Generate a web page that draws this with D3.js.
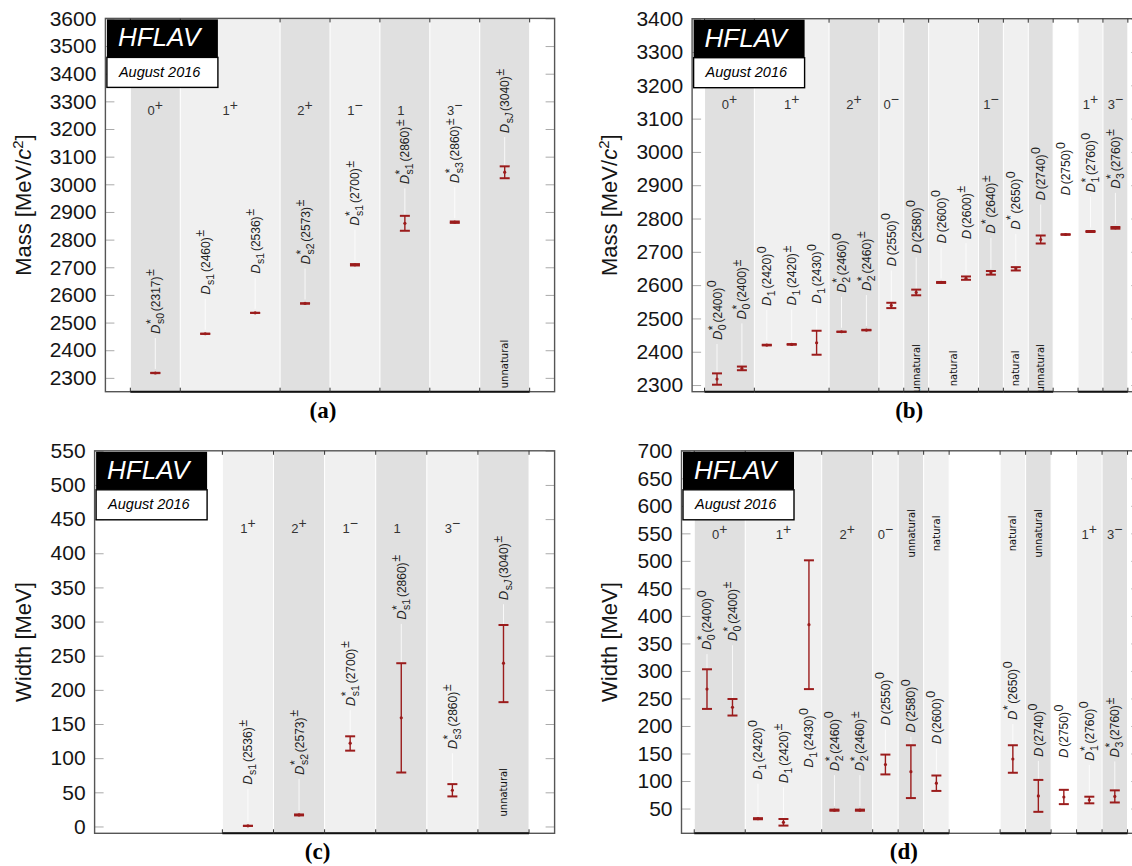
<!DOCTYPE html>
<html><head><meta charset="utf-8">
<script src="https://cdn.jsdelivr.net/npm/d3@7"></script>
<style>body{margin:0;background:#fff} svg{display:block}</style>
</head><body>
<svg id="c" width="1132" height="866"></svg>
<script>
// ---------------- data: D_s mesons (panels a, c) ----------------
const dsSup = ["*","","","*","*","*","*",""];
const dsSub = ["s0","s1","s1","s2","s1","s1","s3","sJ"];
const dsNum = ["(2317)","(2460)","(2536)","(2573)","(2700)","(2860)","(2860)","(3040)"];
const dsChg = ["±","±","±","±","±","±","±","±"];
const dsJP = ["0+","1+","1+","2+","1−","1","3−","unnatural"];
const dsShade = ["d","l","l","d","l","d","l","d"];
const dsMass = [2317.7, 2459.5, 2535.1, 2569.1, 2709, 2859, 2863, 3044];
const dsMassUp = [0.6, 0.6, 0.1, 0.8, 2.5, 27, 2.5, 21];
const dsMassDn = [0.6, 0.6, 0.1, 0.8, 2.5, 27, 2.5, 22];
const dsWidth = [null, null, 0.92, 16.9, 122, 159, 53, 239];
const dsWidthUp = [null, null, 0.05, 0.7, 10, 80, 9, 56];
const dsWidthDn = [null, null, 0.05, 0.7, 11, 80, 9, 57];

// ---------------- data: D mesons (panels b, d) ----------------
const dSup = ["*","*","","","","*","*","","","","","*","*","","","*","*"];
const dSub = ["0","0","1","1","1","2","2","","","","","","","","","1","3"];
const dNum = ["(2400)","(2400)","(2420)","(2420)","(2430)","(2460)","(2460)","(2550)","(2580)","(2600)","(2600)","(2640)","(2650)","(2740)","(2750)","(2760)","(2760)"];
const dChg = ["0","±","0","±","0","0","±","0","0","0","±","±","0","0","0","0","±"];
const dJP = ["0+","0+","1+","1+","1+","2+","2+","0−","unnatural","natural","natural","1−","natural","unnatural","","1+","3−"];
const dShade = ["d","d","l","l","l","d","d","l","d","l","l","d","l","d","w","l","d"];
const dMass = [2318, 2350, 2420, 2422, 2427, 2460, 2465, 2539, 2578, 2608, 2621, 2637, 2649, 2737, 2752, 2761, 2772];
const dMassUp = [17, 5.5, 1, 1, 36, 0.5, 0.8, 8, 8.5, 1.5, 5, 5.5, 5, 12, 1, 1.5, 2.5];
const dMassDn = [17, 5.5, 1, 1, 36, 0.5, 0.8, 8, 8.5, 1.5, 5, 5.5, 5, 12, 1, 1.5, 2.5];
const dWidth = [267, 234, 31.5, 25, 384, 47, 47, 130, 117, 96, null, null, 140, 73, 71, 65.5, 72];
const dWidthUp = [36, 15, 1, 6, 117, 1, 1, 18, 48, 14, null, null, 25, 29, 13, 6, 11];
const dWidthDn = [36, 15, 1, 6, 117, 1, 1, 18, 48, 14, null, null, 25, 29, 13, 6, 11];

// tick values
const massTicksA = d3.range(2300, 3601, 100);
const massTicksB = d3.range(2300, 3401, 100);
const widthTicksC = d3.range(0, 551, 50);
const widthTicksD = d3.range(50, 701, 50);

// label lifts (pixels above the central value)
const liftA = [39,39,39,39,39,39,39,39];
const liftB = [39,49,39,39,39,39,39,39,39,39,39,39,39,39,39,39,39];
const liftC = [39,39,41,40,37,98,41,63];
const liftD = [39,66,39,39,-143,39,39,39,39,39,39,39,39,39,39,39,39];

// ---------------- drawing ----------------
const svg = d3.select("#c");
const RED = "#9b1c1c";
const SANS = "'Liberation Sans', Arial, sans-serif";
const shadeCol = {d:"#e0e0e0", l:"#f0f0f0", w:"none"};

function nameLabel(parent, cx, yb, d) {
  const g = parent.append("g").attr("transform", `translate(${cx},${yb}) rotate(-90)`)
    .attr("fill", "#222").style("font-family", SANS);
  const base = 4.5;
  let xp = 0;
  const t1 = g.append("text").attr("x", 0).attr("y", base).style("font-size", "13px").style("font-style", "italic").text("D");
  xp += t1.node().getComputedTextLength();
  let stackW = 0;
  if (d.sup) {
    const s = g.append("text").attr("x", xp + 0.5).attr("y", base - 5).style("font-size", "12px").text(d.sup);
    stackW = Math.max(stackW, s.node().getComputedTextLength() + 0.5);
  }
  if (d.sub) {
    const s = g.append("text").attr("x", xp + 0.5).attr("y", base + 4).style("font-size", "10.5px");
    for (const ch of d.sub) {
      s.append("tspan").style("font-style", ch === "J" ? "italic" : "normal").text(ch);
    }
    stackW = Math.max(stackW, s.node().getComputedTextLength() + 0.5);
  }
  xp += stackW + 1.8;
  const n = g.append("text").attr("x", xp).attr("y", base).style("font-size", "12px").text(d.num);
  xp += n.node().getComputedTextLength() + 0.6;
  g.append("text").attr("x", xp).attr("y", base - 5.5).style("font-size", "12.5px").text(d.chg);
}

function drawPanel(c) {
  const x = d3.scaleLinear().domain([0, c.xMax]).range([c.left, c.right]);
  const y = d3.scaleLinear().domain(c.yDomain).range([c.bottom, c.top]);
  const g = svg.append("g");

  const items = c.val.map((v, i) => ({
    col: i + 1, v, up: c.up[i], dn: c.dn[i], jp: c.jp[i], shade: c.shade[i],
    sup: c.sup[i], sub: c.sub[i], num: c.num[i], chg: c.chg[i], lift: c.lift[i]
  })).filter(d => d.v != null);

  const groups = [];
  items.forEach(d => {
    const last = groups[groups.length - 1];
    if (last && d.jp !== "" && last.jp === d.jp && last.c1 === d.col - 1) last.c1 = d.col;
    else groups.push({jp: d.jp, c0: d.col, c1: d.col, shade: d.shade});
  });
  const bands = groups.filter(gr => gr.shade !== "w");

  g.append("g").selectAll("rect").data(bands).join("rect")
    .attr("x", d => x(d.c0 - 0.5)).attr("width", d => x(d.c1 + 0.5) - x(d.c0 - 0.5))
    .attr("y", c.top).attr("height", c.bottom - c.top)
    .attr("fill", d => shadeCol[d.shade]);

  const edges = [...new Set(bands.flatMap(d => [d.c0 - 0.5, d.c1 + 0.5]))];
  g.append("g").selectAll("line").data(edges).join("line")
    .attr("x1", d => x(d)).attr("x2", d => x(d)).attr("y1", c.top).attr("y2", c.bottom)
    .attr("stroke", "#fff").attr("stroke-width", 1);

  // ticks (inside, both sides)
  const tl = g.append("g").attr("transform", `translate(${c.left},0)`)
    .call(d3.axisRight(y).tickValues(c.ticks).tickSize(9).tickFormat(""));
  tl.select(".domain").remove();
  tl.selectAll("line").attr("stroke", "#aaa");
  const tr = g.append("g").attr("transform", `translate(${c.right},0)`)
    .call(d3.axisLeft(y).tickValues(c.ticks).tickSize(9).tickFormat(""));
  tr.select(".domain").remove();
  tr.selectAll("line").attr("stroke", "#aaa");

  // frame
  g.append("rect").attr("x", c.left).attr("y", c.top)
    .attr("width", c.right - c.left).attr("height", c.bottom - c.top)
    .attr("fill", "none").attr("stroke", "#555").attr("stroke-width", 1.4);

  // band bottom line + boundary ticks
  g.append("g").selectAll("line").data(bands).join("line")
    .attr("x1", d => x(d.c0 - 0.5)).attr("x2", d => x(d.c1 + 0.5))
    .attr("y1", c.bottom).attr("y2", c.bottom).attr("stroke", "#111").attr("stroke-width", 2);
  const bt = g.append("g");
  edges.forEach(e => {
    bt.append("line").attr("x1", x(e)).attr("x2", x(e)).attr("y1", c.bottom).attr("y2", c.bottom - 4).attr("stroke", "#333");
    bt.append("line").attr("x1", x(e)).attr("x2", x(e)).attr("y1", c.top).attr("y2", c.top + 4).attr("stroke", "#333");
  });

  // tick labels
  const ax = g.append("g").attr("transform", `translate(${c.left},0)`)
    .call(d3.axisLeft(y).tickValues(c.ticks).tickSize(0).tickPadding(9).tickFormat(d3.format("d")));
  ax.select(".domain").remove();
  ax.selectAll("text").style("font-family", SANS).style("font-size", "21px").attr("fill", "#151515");

  // leader lines
  g.append("g").selectAll("line").data(items.filter(d => d.lift > 0)).join("line")
    .attr("x1", d => x(d.col)).attr("x2", d => x(d.col))
    .attr("y1", d => y(d.v) - d.lift + 4)
    .attr("y2", d => Math.min(y(d.v + d.up), y(d.v) - 3) - 1)
    .attr("stroke", "#fff").attr("stroke-opacity", 0.8).attr("stroke-width", 1);

  // error bars
  const eb = g.append("g").attr("stroke", RED).selectAll("g").data(items).join("g");
  eb.append("line").attr("x1", d => x(d.col)).attr("x2", d => x(d.col))
    .attr("y1", d => y(d.v + d.up)).attr("y2", d => y(d.v - d.dn)).attr("stroke-width", 1.4);
  eb.append("line").attr("x1", d => x(d.col) - 5).attr("x2", d => x(d.col) + 5)
    .attr("y1", d => y(d.v + d.up)).attr("y2", d => y(d.v + d.up)).attr("stroke-width", 2);
  eb.append("line").attr("x1", d => x(d.col) - 5).attr("x2", d => x(d.col) + 5)
    .attr("y1", d => y(d.v - d.dn)).attr("y2", d => y(d.v - d.dn)).attr("stroke-width", 2);
  eb.append("circle").attr("cx", d => x(d.col)).attr("cy", d => y(d.v)).attr("r", 1.6)
    .attr("fill", RED).attr("stroke", "none");

  // particle labels
  items.forEach(d => nameLabel(g, x(d.col), y(d.v) - d.lift, d));

  // J^P labels
  groups.filter(gr => gr.jp !== "" && gr.jp !== "natural" && gr.jp !== "unnatural").forEach(gr => {
    const t = g.append("text").attr("x", x((gr.c0 + gr.c1) / 2)).attr("y", y(c.jpY))
      .attr("text-anchor", "middle").style("font-family", SANS).attr("fill", "#333");
    const baseCh = gr.jp[0];
    const supCh = gr.jp.slice(1);
    t.append("tspan").style("font-size", "13px").text(baseCh);
    t.append("tspan").attr("dy", -5).style("font-size", "14px")
      .attr("fill-opacity", supCh ? 1 : 0).text(supCh || "+");
  });

  // natural / unnatural labels
  groups.filter(gr => gr.jp === "natural" || gr.jp === "unnatural").forEach(gr => {
    g.append("text")
      .attr("transform", `translate(${x((gr.c0 + gr.c1) / 2)},${y(c.typeY)}) rotate(-90)`)
      .attr("y", 3.6).attr("text-anchor", "middle")
      .style("font-family", "'DejaVu Sans', sans-serif").style("font-size", "10px")
      .attr("fill", "#111").text(gr.jp);
  });

  // HFLAV box
  const bx = c.left + 1.5, by = c.top + 1;
  g.append("rect").attr("x", bx).attr("y", by).attr("width", 111).attr("height", 38).attr("fill", "#000");
  g.append("rect").attr("x", bx).attr("y", by + 38).attr("width", 111).attr("height", 30)
    .attr("fill", "#fff").attr("stroke", "#000").attr("stroke-width", 1.4);
  g.append("text").attr("x", bx + 11).attr("y", by + 27).attr("fill", "#fff")
    .style("font-family", SANS).style("font-style", "italic").style("font-size", "26px").text("HFLAV");
  g.append("text").attr("x", bx + 12).attr("y", by + 57.5).attr("fill", "#000")
    .style("font-family", SANS).style("font-style", "italic").style("font-size", "14.5px").text("August 2016");

  // y label
  const yl = g.append("text")
    .attr("transform", `translate(${c.ylabelX},${(c.top + c.bottom) / 2}) rotate(-90)`)
    .attr("text-anchor", "middle").style("font-family", SANS).style("font-size", "22px").attr("fill", "#151515");
  if (c.mass) {
    yl.append("tspan").text("Mass [MeV/");
    yl.append("tspan").style("font-style", "italic").text("c");
    yl.append("tspan").attr("dy", -8).style("font-size", "15px").text("2");
    yl.append("tspan").attr("dy", 8).text("]");
  } else {
    yl.text("Width [MeV]");
  }

  // caption
  g.append("text").attr("x", (c.left + c.right) / 2 - 7).attr("y", c.bottom + 26)
    .attr("text-anchor", "middle").style("font-family", "'Liberation Serif', 'Times New Roman', serif")
    .style("font-weight", "bold").style("font-size", "23px").attr("fill", "#000").text(c.caption);
}

drawPanel({left:105.4, right:554.6, xMax:9, top:18.4, bottom:391.7, yDomain:[2250,3600], ticks:massTicksA,
  val:dsMass, up:dsMassUp, dn:dsMassDn, jp:dsJP, shade:dsShade, sup:dsSup, sub:dsSub, num:dsNum, chg:dsChg, lift:liftA,
  jpY:3250, typeY:2350, ylabelX:31, mass:true, caption:"(a)"});
drawPanel({left:692.1, right:1140.3, xMax:18, top:18.7, bottom:391.7, yDomain:[2280,3400], ticks:massTicksB,
  val:dMass, up:dMassUp, dn:dMassDn, jp:dJP, shade:dShade, sup:dSup, sub:dSub, num:dNum, chg:dChg, lift:liftB,
  jpY:3130, typeY:2350, ylabelX:617, mass:true, caption:"(b)"});
drawPanel({left:94.6, right:554.6, xMax:9, top:450.8, bottom:833.3, yDomain:[-10,550], ticks:widthTicksC,
  val:dsWidth, up:dsWidthUp, dn:dsWidthDn, jp:dsJP, shade:dsShade, sup:dsSup, sub:dsSub, num:dsNum, chg:dsChg, lift:liftC,
  jpY:430, typeY:50, ylabelX:31, mass:false, caption:"(c)"});
drawPanel({left:681.5, right:1140.3, xMax:18, top:450.8, bottom:833.3, yDomain:[5,700], ticks:widthTicksD,
  val:dWidth, up:dWidthUp, dn:dWidthDn, jp:dJP, shade:dShade, sup:dSup, sub:dSub, num:dNum, chg:dChg, lift:liftD,
  jpY:540, typeY:550, ylabelX:617, mass:false, caption:"(d)"});
</script>
</body></html>
